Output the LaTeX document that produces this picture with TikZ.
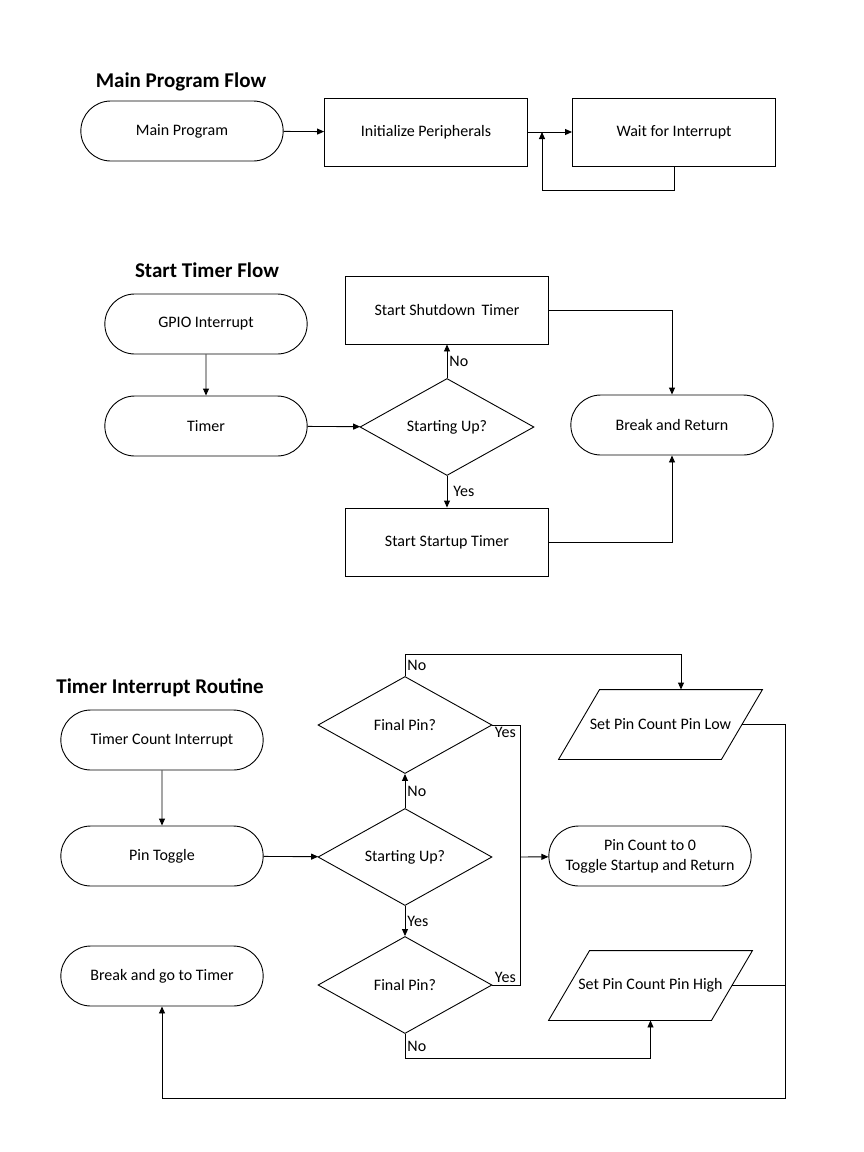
\documentclass[tikz,border=0pt]{standalone}
\usepackage{fontspec}
\setmainfont{Carlito}
\usetikzlibrary{shapes.geometric,shapes.misc,arrows.meta}
\tikzset{
  >={Triangle[length=7pt,width=6pt]},
  every node/.style={font=\fontsize{16}{20}\selectfont},
  title/.style={font=\fontsize{21}{24}\selectfont\bfseries},
  terminal/.style={draw,rounded rectangle,minimum width=209pt,minimum height=60pt},
  process/.style={draw,rectangle,minimum width=203pt,minimum height=68pt},
  decision/.style={draw,diamond,aspect=1.8,minimum width=174pt,minimum height=97pt},
  io/.style={rectangle,minimum width=162pt,minimum height=69pt,inner sep=0pt},
  lbl/.style={inner sep=2pt}
}
\begin{document}
\begin{tikzpicture}[x=1pt,y=-1pt,line width=0.9pt]
\useasboundingbox (0,0) rectangle (864,1152);
\node [title] (t1) at (181,82) {Main Program Flow};
\node [terminal] (main) at (182,131) {Main Program};
\node [process] (init) at (426,132) {Initialize Peripherals};
\node [process] (wait) at (674,132) {Wait for Interrupt};
\coordinate (loopin) at (542,132);
\draw[->] (main) -- (init);
\draw[->] (init) -- (wait);
\draw[->] (wait.south) -- ++(0,24) -| (loopin);

\node [title] (t2) at (207,270) {Start Timer Flow};
\node [terminal] (gpio) at (206,324) {GPIO Interrupt};
\node [terminal] (timer) at (206,426) {Timer};
\node [decision] (start1) at (447,427) {Starting Up?};
\node [process] (shutdown) at (447,310) {Start Shutdown\, Timer};
\node [process] (startup) at (447,542) {Start Startup Timer};
\node [terminal] (brk) at (672,425) {Break and Return};
\draw[->] (gpio) -- (timer);
\draw[->] (timer) -- (start1);
\draw[->] (start1) -- node [right,lbl] {No} (shutdown);
\draw[->] (start1) -- node [right,lbl,xshift=4pt] {Yes} (startup);
\draw[->] (shutdown) -| (brk);
\draw[->] (startup) -| (brk);

\node [title] (t3) at (160,688) {Timer Interrupt Routine};
\node [terminal] (tcount) at (162,740) {Timer Count Interrupt};
\node [terminal] (toggle) at (162,856) {Pin Toggle};
\node [terminal] (brk2) at (162,976) {Break and go to Timer};
\node [decision] (start2) at (405,857) {Starting Up?};
\node [decision] (final1) at (405,725) {Final Pin?};
\node [decision] (final2) at (405,985) {Final Pin?};
\node [terminal,align=center] (reset) at (650,856) {Pin Count to 0\\Toggle Startup and Return};
\node [io] (setlow) at (660.5,724.5) {Set Pin Count Pin Low};
\node [io] (sethigh) at (650.5,985.5) {Set Pin Count Pin High};
\foreach \n in {setlow,sethigh}
  \draw ([xshift=20.5pt]\n.north west) -- ([xshift=20.5pt]\n.north east) -- ([xshift=-20.5pt]\n.south east) -- ([xshift=-20.5pt]\n.south west) -- cycle;
\coordinate (join) at (520,857);
\coordinate (merge) at (785,986);
\draw[->] (tcount) -- (toggle);
\draw[->] (toggle) -- (start2);
\draw[->] (start2) -- node [right,lbl] {No} (final1);
\draw[->] (start2) -- node [right,lbl] {Yes} (final2);
\draw[->] (final1.north) -- node [right,lbl] {No} ++(0,-22) -| ([xshift=20.5pt]setlow.north);
\draw (final1.east) node [below right,lbl] {Yes} -| (join);
\draw (final2.east) node [above right,lbl] {Yes} -| (join);
\draw[->] (join) -- (reset);
\draw[->] (final2.south) -- node [right,lbl] {No} ++(0,24) -| (sethigh.south);
\draw (setlow.east) -| (merge);
\draw (sethigh.east) -| (merge);
\draw[->] (merge) -- ++(0,112) -| (brk2);
\end{tikzpicture}
\end{document}
